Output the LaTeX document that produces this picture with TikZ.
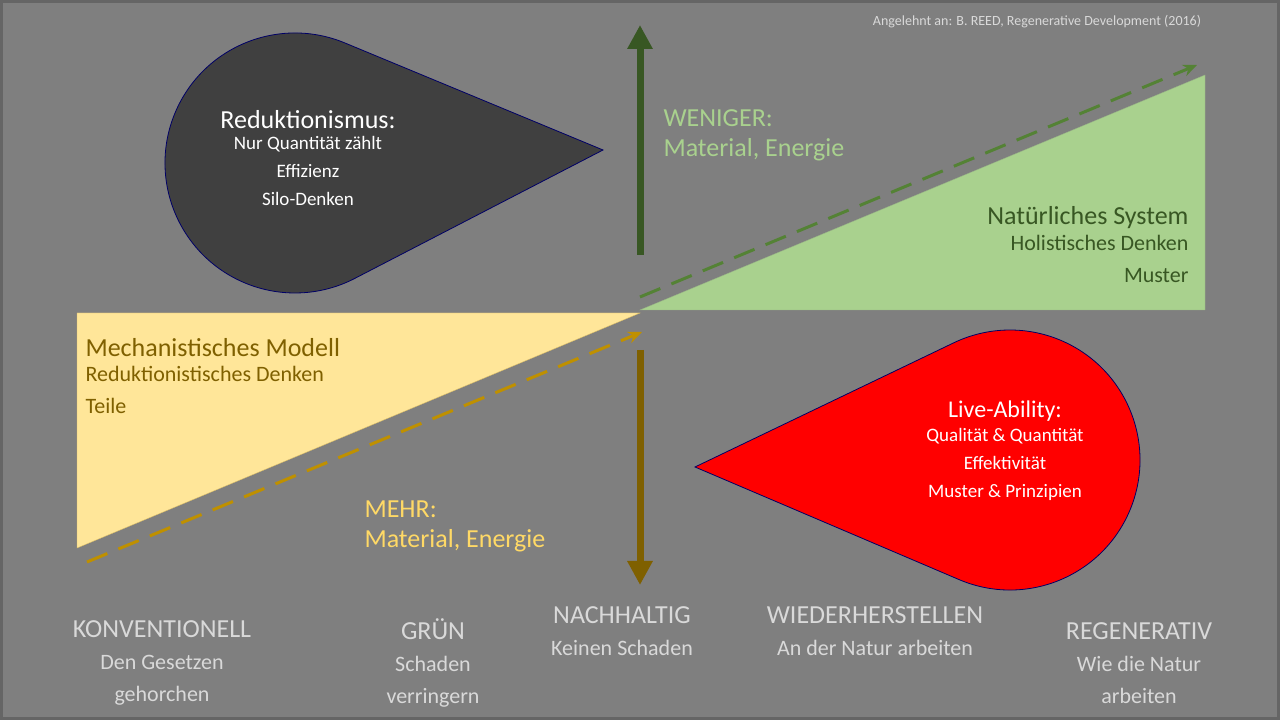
\documentclass[tikz,border=0pt]{standalone}
\usepackage{fontspec}
\setmainfont{Carlito}
\usetikzlibrary{positioning,arrows.meta,calc}
\definecolor{bg}{HTML}{7F7F7F}
\definecolor{sandfill}{HTML}{FFE699}
\definecolor{leaffill}{HTML}{A9D18E}
\definecolor{gold}{HTML}{BF9000}
\definecolor{darkgold}{HTML}{7F6000}
\definecolor{leaf}{HTML}{548235}
\definecolor{darkleaf}{HTML}{385723}
\definecolor{pale}{HTML}{D9D9D9}
\definecolor{lightgold}{HTML}{FFD966}
\tikzset{%
  head/.style = {font=\fontsize{26}{30}\selectfont},
  sub/.style = {font=\fontsize{22}{32}\selectfont},
  small/.style = {font=\fontsize{19}{28}\selectfont},
  dasharrow/.style = {-{Stealth[length=14pt,width=12pt]},dashed,line width=3pt,
        dash pattern=on 22pt off 12pt},
  bigarrow/.style = {-{Triangle[length=24pt,width=24pt]},line width=7pt},
  bottom/.style = {align=center,text=pale,font=\fontsize{22}{32}\selectfont}
}
\begin{document}
\begin{tikzpicture}[x=1pt,y=1pt]
   \useasboundingbox (0,0) rectangle (1280,720);
   \fill[bg!80!black] (0,0) rectangle (1280,720);
   \fill[bg] (3,3) rectangle (1277,717);

   % triangles
   \draw[fill=sandfill,draw=gold!60] (77,407) -- (640,407) -- (77,172) -- cycle;
   \draw[fill=leaffill,draw=leaf!60] (640,410) -- (1205,645) -- (1205,410) -- cycle;

   % dashed trend lines
   \coordinate (mech-start) at (87,158);
   \coordinate (mech-end) at (642,388);
   \coordinate (nat-start) at (640,423);
   \coordinate (nat-end) at (1197,655);
   \draw[dasharrow,gold] (mech-start) -- (mech-end);
   \draw[dasharrow,leaf] (nat-start) -- (nat-end);

   % vertical arrows
   \coordinate (up-start) at (640,465);
   \coordinate (up-end) at (640,695);
   \coordinate (down-start) at (640,370);
   \coordinate (down-end) at (640,135);
   \draw[bigarrow,darkleaf] (up-start) -- (up-end);
   \draw[bigarrow,darkgold] (down-start) -- (down-end);

   % drops
   \draw[fill=black!75,draw=blue!40!black,thick]
      (603,570) -- ($(295,557)+(67.4:130)$) arc[start angle=67.4,end angle=297.4,radius=130] -- cycle;
   \draw[fill=red,draw=blue!40!black,thick]
      (695,253) -- ($(1010,260)+(246.9:130)$) arc[start angle=246.9,end angle=475.7,radius=130] -- cycle;

   \node[text=pale,font=\fontsize{14}{16}\selectfont] (source) at (1037,698)
      {Angelehnt an: B. REED, Regenerative Development (2016)};

   \node[head,text=white] (reduk) at (308,600) {Reduktionismus:};
   \node[small,text=white,align=center,below=0pt of reduk] (reduk-list)
      {Nur Quantität zählt\\Effizienz\\Silo-Denken};

   \node[head,text=leaffill,anchor=west,align=left] (weniger) at (660,585)
      {WENIGER:\\Material, Energie};

   \node[head,text=darkleaf,anchor=east] (natur) at (1192,502) {Natürliches System};
   \node[sub,text=darkleaf,anchor=north east,align=right] (natur-list) at (1192,488)
      {Holistisches Denken\\Muster};

   \node[head,text=darkgold,anchor=west] (mech) at (82,372) {Mechanistisches Modell};
   \node[sub,text=darkgold,anchor=north west,align=left] (mech-list) at (82,357)
      {Reduktionistisches Denken\\Teile};

   \node[font=\fontsize{24}{28}\selectfont,text=white] (live) at (1005,309) {Live-Ability:};
   \node[small,text=white,align=center,below=0pt of live] (live-list)
      {Qualität \& Quantität\\Effektivität\\Muster \& Prinzipien};

   \node[head,text=lightgold,anchor=west,align=left] (mehr) at (361,194)
      {MEHR:\\Material, Energie};

   % stages
   \node[bottom] (konv) at (162,57)
      {{\fontsize{26}{30}\selectfont KONVENTIONELL}\\Den Gesetzen\\gehorchen};
   \node[bottom] (gruen) at (433,57)
      {{\fontsize{26}{30}\selectfont GRÜN}\\Schaden\\verringern};
   \node[bottom] (nach) at (622,89)
      {{\fontsize{26}{30}\selectfont NACHHALTIG}\\Keinen Schaden};
   \node[bottom] (wieder) at (875,89)
      {{\fontsize{26}{30}\selectfont WIEDERHERSTELLEN}\\An der Natur arbeiten};
   \node[bottom] (regen) at (1139,57)
      {{\fontsize{26}{30}\selectfont REGENERATIV}\\Wie die Natur\\arbeiten};
\end{tikzpicture}
\end{document}
